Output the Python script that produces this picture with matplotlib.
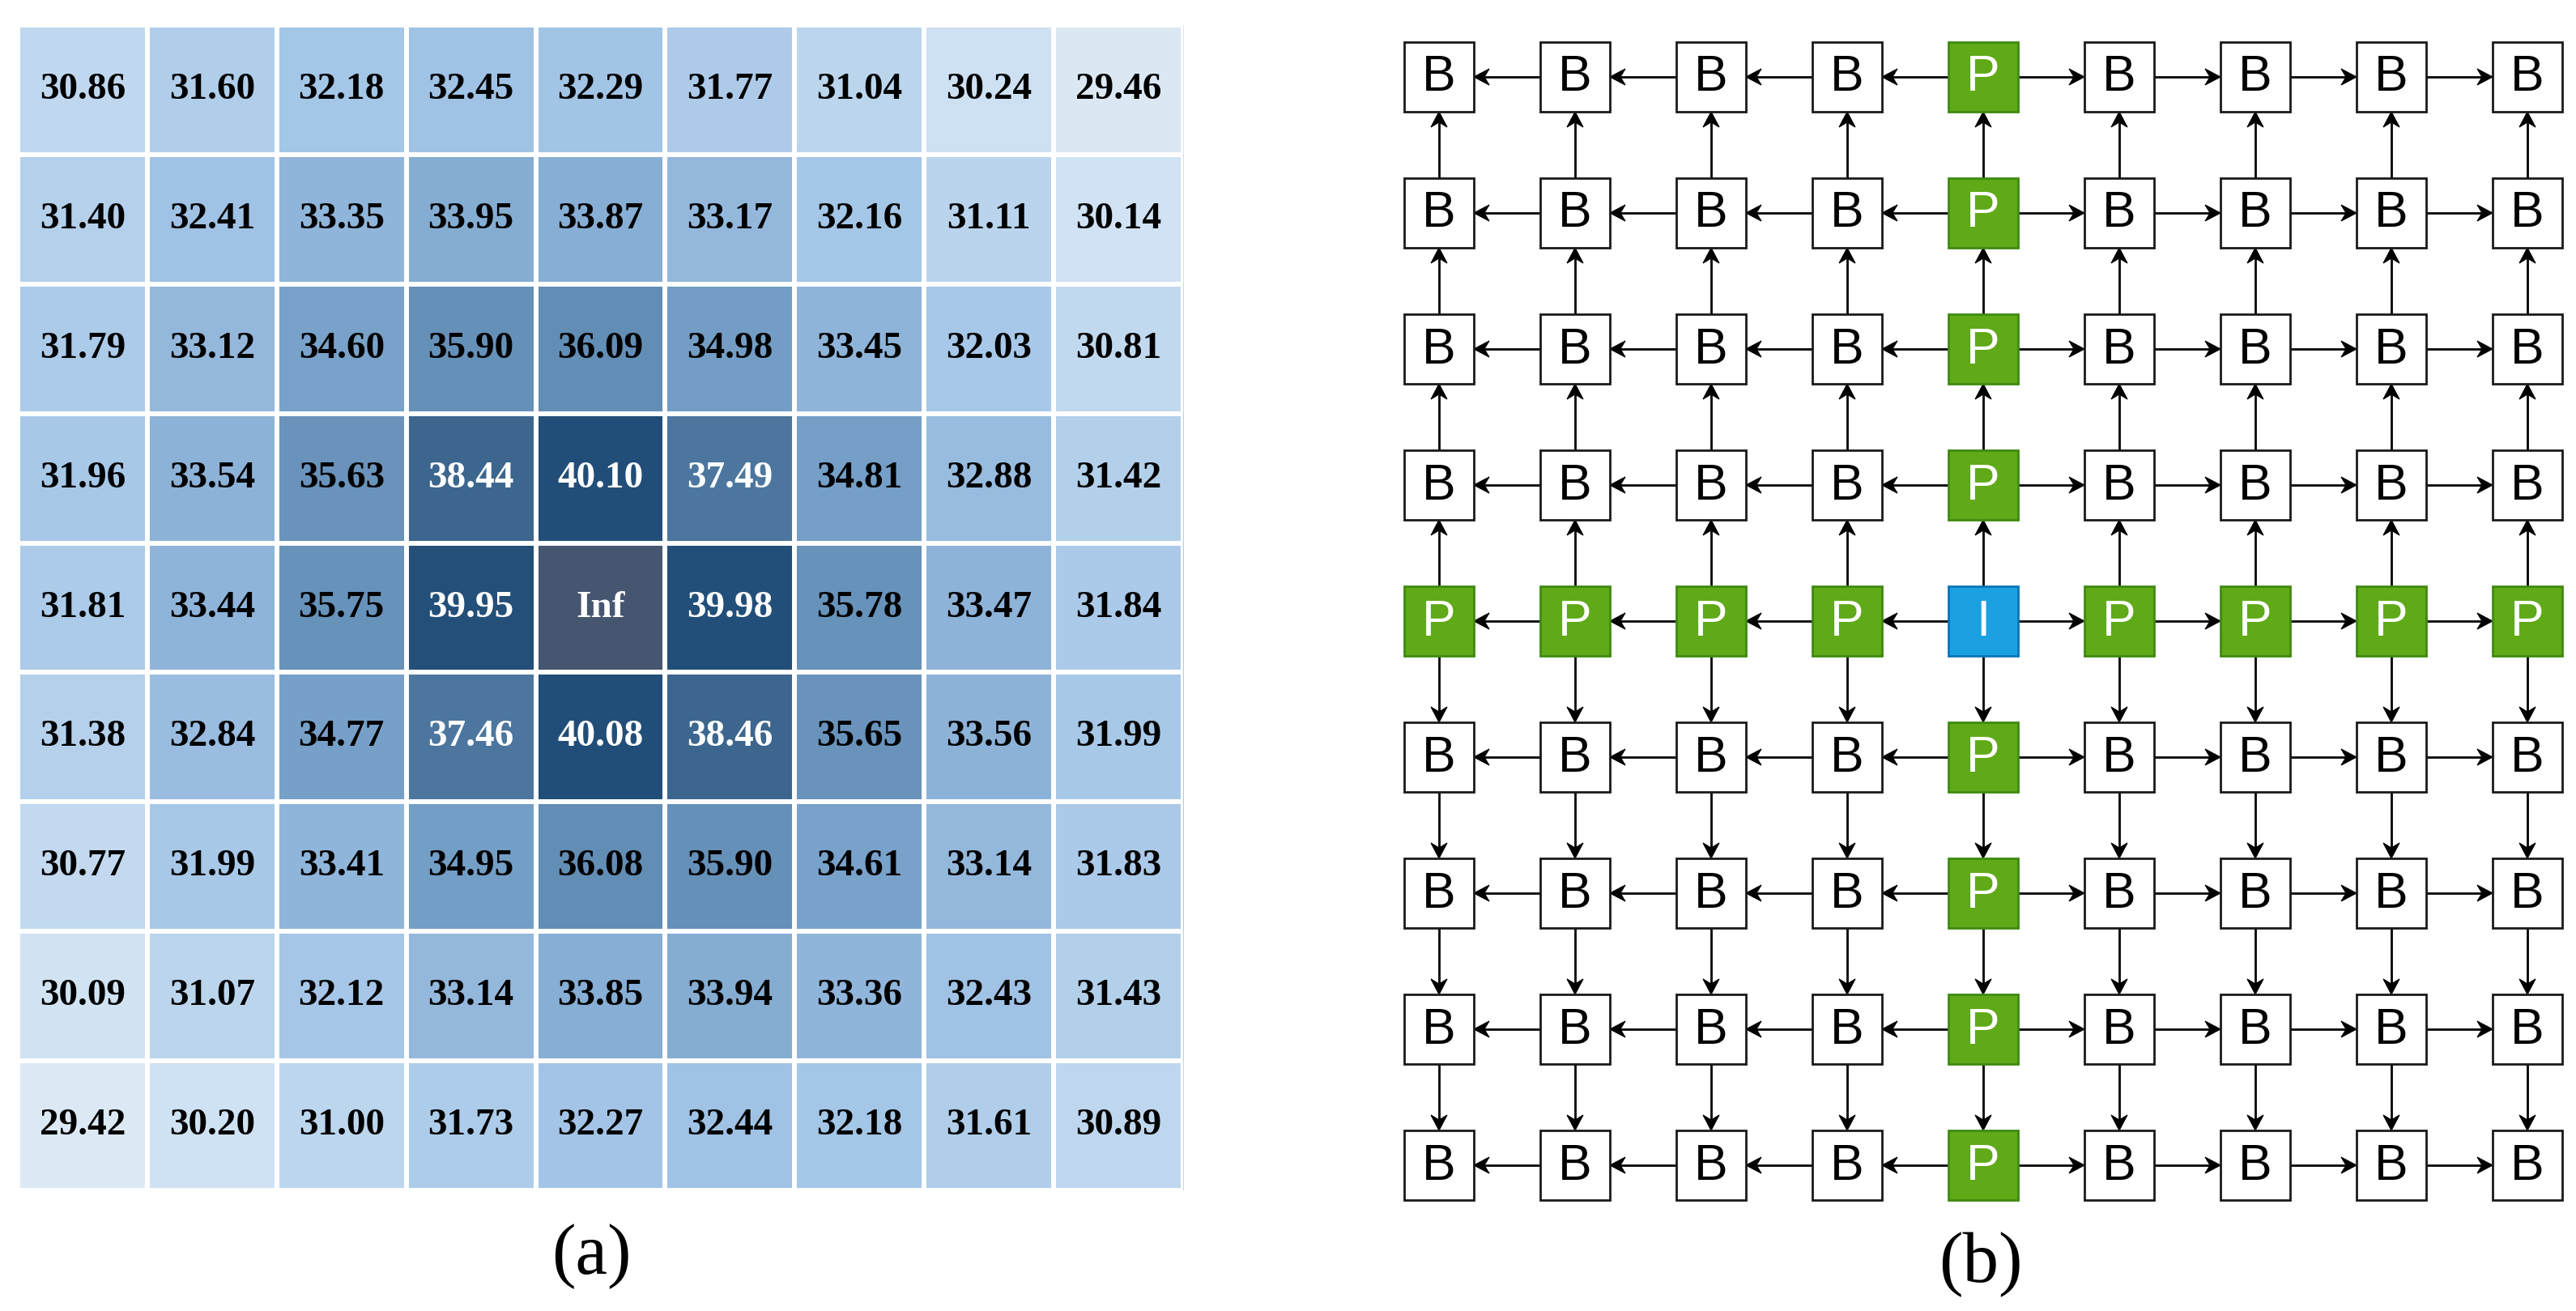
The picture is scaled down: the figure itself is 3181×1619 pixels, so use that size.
import numpy as np
import matplotlib.pyplot as plt
from matplotlib.colors import LinearSegmentedColormap
from matplotlib.patches import Rectangle, Polygon

# (a) values around the source cell (centre = Inf)
row1 = [30.86, 31.60, 32.18, 32.45, 32.29, 31.77, 31.04, 30.24, 29.46]
row2 = [31.40, 32.41, 33.35, 33.95, 33.87, 33.17, 32.16, 31.11, 30.14]
row3 = [31.79, 33.12, 34.60, 35.90, 36.09, 34.98, 33.45, 32.03, 30.81]
row4 = [31.96, 33.54, 35.63, 38.44, 40.10, 37.49, 34.81, 32.88, 31.42]
row5 = [31.81, 33.44, 35.75, 39.95, np.inf, 39.98, 35.78, 33.47, 31.84]
row6 = [31.38, 32.84, 34.77, 37.46, 40.08, 38.46, 35.65, 33.56, 31.99]
row7 = [30.77, 31.99, 33.41, 34.95, 36.08, 35.90, 34.61, 33.14, 31.83]
row8 = [30.09, 31.07, 32.12, 33.14, 33.85, 33.94, 33.36, 32.43, 31.43]
row9 = [29.42, 30.20, 31.00, 31.73, 32.27, 32.44, 32.18, 31.61, 30.89]

# (b) node types of the 9x9 grid
nodes = ["BBBBPBBBB",
         "BBBBPBBBB",
         "BBBBPBBBB",
         "BBBBPBBBB",
         "PPPPIPPPP",
         "BBBBPBBBB",
         "BBBBPBBBB",
         "BBBBPBBBB",
         "BBBBPBBBB"]

vals = np.array([row1, row2, row3, row4, row5, row6, row7, row8, row9])
n = vals.shape[0]

W, H = 3181, 1619
fig = plt.figure(figsize=(W / 100, H / 100), dpi=100)

# colour ramp
vmin, vmax = 29.4, 40.1
stops = [(29.4, '#dce9f5'), (30.2, '#cfe2f3'), (31.0, '#bcd6ee'), (32.1, '#a6c7e8'),
         (33.4, '#90b5da'), (34.6, '#79a3ca'), (36.0, '#648fb7'), (37.5, '#4c769e'),
         (38.45, '#3d678f'), (40.1, '#214e78')]
cmap = LinearSegmentedColormap.from_list(
    'blues', [((v - vmin) / (vmax - vmin), c) for v, c in stops])
cmap.set_bad('#465570')

# ---- (a) heatmap
x0, x1, y0, y1 = 22, 1461, 31, 1470
ax = fig.add_axes([x0 / W, 1 - y1 / H, (x1 - x0) / W, (y1 - y0) / H])
masked = np.ma.masked_invalid(vals)
ax.imshow(masked, cmap=cmap, vmin=vmin, vmax=vmax, aspect='auto',
          extent=(0, n, n, 0), interpolation='nearest')
for k in range(n + 1):
    ax.axhline(k, color='white', lw=4.3)
    ax.axvline(k, color='white', lw=4.3)
for i in range(n):
    for j in range(n):
        v = vals[i, j]
        txt = 'Inf' if np.isinf(v) else f'{v:.2f}'
        col = 'white' if (np.isinf(v) or v >= 37) else 'black'
        ax.text(j + 0.5, i + 0.5, txt, ha='center', va='center', color=col,
                fontsize=34, fontweight='bold', family='Liberation Serif')
ax.set_xlim(0, n)
ax.set_ylim(n, 0)
ax.axis('off')

fig.text(730 / W, 1 - 1552 / H, '(a)', ha='center', va='center',
         fontsize=64, family='Liberation Serif')
fig.text(2446 / W, 1 - 1562 / H, '(b)', ha='center', va='center',
         fontsize=64, family='Liberation Serif')

# ---- (b) propagation grid, drawn in pixel units
gx = fig.add_axes([0, 0, 1, 1], zorder=-1)
gx.set_xlim(0, W)
gx.set_ylim(H, 0)
gx.axis('off')

cx0, cy0, pitch, box = 1777, 95, 168, 86
fills = {'B': 'white', 'P': '#60a917', 'I': '#1ba1e2'}
edges = {'B': '#1a1a1a', 'P': '#3f8a12', 'I': '#0a75b5'}
tcols = {'B': 'black', 'P': 'white', 'I': 'white'}

ci = [r for r, s in enumerate(nodes) if 'I' in s][0]
cj = nodes[ci].index('I')


def centre(r, c):
    return cx0 + c * pitch, cy0 + r * pitch


def arrow(r0, c0, r1, c1):
    (xa, ya), (xb, yb) = centre(r0, c0), centre(r1, c1)
    d = np.array([xb - xa, yb - ya], float)
    d /= np.hypot(*d)
    p = np.array([-d[1], d[0]])
    start = np.array([xa, ya]) + d * box / 2
    tip = np.array([xb, yb]) - d * box / 2
    L, w = 19, 10
    back = tip - d * L
    notch = tip - d * L * 0.68
    gx.plot([start[0], notch[0]], [start[1], notch[1]], color='black', lw=2.0,
            solid_capstyle='butt')
    gx.add_patch(Polygon([tip, back + p * w, notch, back - p * w],
                         closed=True, fc='black', ec='black', lw=0.8))


for r in range(n):
    for c in range(n):
        if c < cj:
            arrow(r, c + 1, r, c)
        elif c > cj:
            arrow(r, c - 1, r, c)
        if r < ci:
            arrow(r + 1, c, r, c)
        elif r > ci:
            arrow(r - 1, c, r, c)

for r in range(n):
    for c in range(n):
        t = nodes[r][c]
        x, y = centre(r, c)
        gx.add_patch(Rectangle((x - box / 2, y - box / 2), box, box,
                               fc=fills[t], ec=edges[t], lw=2.0, zorder=3))
        gx.text(x, y + 1, t, ha='center', va='center', color=tcols[t],
                fontsize=45, family='Liberation Sans', zorder=4)

fig.savefig('out.png', dpi=100)
